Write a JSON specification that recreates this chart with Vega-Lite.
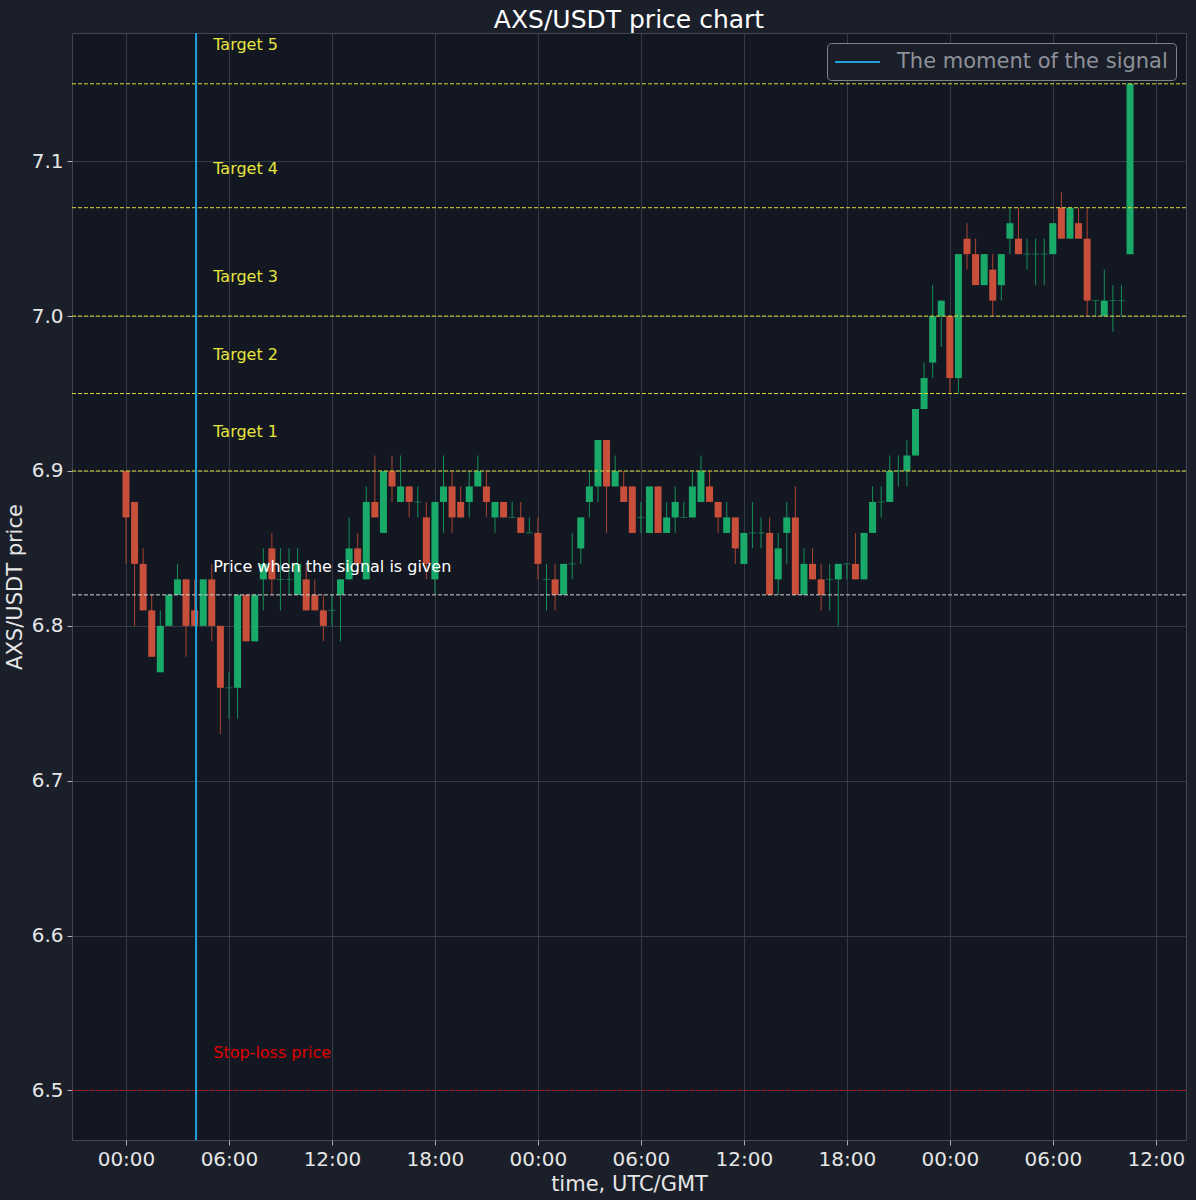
{
"$schema": "https://vega.github.io/schema/vega-lite/v6.json",
"width": 1114, "height": 1107,
"autosize": {"type": "none"},
"padding": {"left": 72, "top": 33, "right": 10, "bottom": 60},
"background": "#1b1f2a",
"title": {"text": "AXS/USDT price chart", "fontSize": 25, "font": "DejaVu Sans", "fontWeight": "normal", "color": "#ffffff", "anchor": "middle", "offset": 2, "baseline": "bottom", "dy": 28},
"config": {
  "view": {"fill": "#131722", "stroke": "#424653", "strokeWidth": 1},
  "font": "DejaVu Sans",
  "axis": {"gridColor": "#363a47", "gridWidth": 1, "domain": false, "tickColor": "#b0b0b0", "tickSize": 5, "labelColor": "#e6e6e6", "labelFontSize": 20, "labelFont": "DejaVu Sans", "titleColor": "#e6e6e6", "titleFontSize": 21, "titleFont": "DejaVu Sans", "titleFontWeight": "normal", "labelPadding": 4}
},
"datasets": {
"candles": [
{"t":"2023-01-01T00:00:00Z","o":6.90,"h":6.90,"l":6.84,"c":6.87},
{"t":"2023-01-01T00:30:00Z","o":6.88,"h":6.88,"l":6.80,"c":6.84},
{"t":"2023-01-01T01:00:00Z","o":6.84,"h":6.85,"l":6.81,"c":6.81},
{"t":"2023-01-01T01:30:00Z","o":6.81,"h":6.82,"l":6.78,"c":6.78},
{"t":"2023-01-01T02:00:00Z","o":6.77,"h":6.81,"l":6.77,"c":6.80},
{"t":"2023-01-01T02:30:00Z","o":6.80,"h":6.82,"l":6.80,"c":6.82},
{"t":"2023-01-01T03:00:00Z","o":6.82,"h":6.84,"l":6.82,"c":6.83},
{"t":"2023-01-01T03:30:00Z","o":6.83,"h":6.83,"l":6.78,"c":6.80},
{"t":"2023-01-01T04:00:00Z","o":6.81,"h":6.83,"l":6.80,"c":6.80},
{"t":"2023-01-01T04:30:00Z","o":6.80,"h":6.83,"l":6.80,"c":6.83},
{"t":"2023-01-01T05:00:00Z","o":6.83,"h":6.84,"l":6.79,"c":6.80},
{"t":"2023-01-01T05:30:00Z","o":6.80,"h":6.80,"l":6.73,"c":6.76},
{"t":"2023-01-01T06:00:00Z","o":6.76,"h":6.77,"l":6.74,"c":6.76},
{"t":"2023-01-01T06:30:00Z","o":6.76,"h":6.82,"l":6.74,"c":6.82},
{"t":"2023-01-01T07:00:00Z","o":6.82,"h":6.82,"l":6.79,"c":6.79},
{"t":"2023-01-01T07:30:00Z","o":6.79,"h":6.82,"l":6.79,"c":6.82},
{"t":"2023-01-01T08:00:00Z","o":6.83,"h":6.85,"l":6.81,"c":6.84},
{"t":"2023-01-01T08:30:00Z","o":6.85,"h":6.86,"l":6.82,"c":6.83},
{"t":"2023-01-01T09:00:00Z","o":6.83,"h":6.85,"l":6.81,"c":6.83},
{"t":"2023-01-01T09:30:00Z","o":6.83,"h":6.85,"l":6.82,"c":6.83},
{"t":"2023-01-01T10:00:00Z","o":6.82,"h":6.85,"l":6.82,"c":6.84},
{"t":"2023-01-01T10:30:00Z","o":6.83,"h":6.84,"l":6.81,"c":6.81},
{"t":"2023-01-01T11:00:00Z","o":6.82,"h":6.83,"l":6.81,"c":6.81},
{"t":"2023-01-01T11:30:00Z","o":6.81,"h":6.82,"l":6.79,"c":6.80},
{"t":"2023-01-01T12:00:00Z","o":6.81,"h":6.82,"l":6.80,"c":6.81},
{"t":"2023-01-01T12:30:00Z","o":6.82,"h":6.83,"l":6.79,"c":6.83},
{"t":"2023-01-01T13:00:00Z","o":6.83,"h":6.87,"l":6.83,"c":6.85},
{"t":"2023-01-01T13:30:00Z","o":6.85,"h":6.86,"l":6.84,"c":6.84},
{"t":"2023-01-01T14:00:00Z","o":6.83,"h":6.89,"l":6.83,"c":6.88},
{"t":"2023-01-01T14:30:00Z","o":6.88,"h":6.91,"l":6.87,"c":6.87},
{"t":"2023-01-01T15:00:00Z","o":6.86,"h":6.90,"l":6.86,"c":6.90},
{"t":"2023-01-01T15:30:00Z","o":6.90,"h":6.91,"l":6.88,"c":6.89},
{"t":"2023-01-01T16:00:00Z","o":6.88,"h":6.91,"l":6.88,"c":6.89},
{"t":"2023-01-01T16:30:00Z","o":6.89,"h":6.89,"l":6.87,"c":6.88},
{"t":"2023-01-01T17:00:00Z","o":6.88,"h":6.89,"l":6.87,"c":6.88},
{"t":"2023-01-01T17:30:00Z","o":6.87,"h":6.88,"l":6.83,"c":6.84},
{"t":"2023-01-01T18:00:00Z","o":6.83,"h":6.88,"l":6.82,"c":6.88},
{"t":"2023-01-01T18:30:00Z","o":6.88,"h":6.91,"l":6.86,"c":6.89},
{"t":"2023-01-01T19:00:00Z","o":6.89,"h":6.90,"l":6.86,"c":6.87},
{"t":"2023-01-01T19:30:00Z","o":6.88,"h":6.89,"l":6.87,"c":6.87},
{"t":"2023-01-01T20:00:00Z","o":6.88,"h":6.90,"l":6.87,"c":6.89},
{"t":"2023-01-01T20:30:00Z","o":6.89,"h":6.91,"l":6.89,"c":6.90},
{"t":"2023-01-01T21:00:00Z","o":6.89,"h":6.90,"l":6.87,"c":6.88},
{"t":"2023-01-01T21:30:00Z","o":6.87,"h":6.88,"l":6.86,"c":6.88},
{"t":"2023-01-01T22:00:00Z","o":6.88,"h":6.88,"l":6.87,"c":6.87},
{"t":"2023-01-01T22:30:00Z","o":6.87,"h":6.88,"l":6.87,"c":6.87},
{"t":"2023-01-01T23:00:00Z","o":6.87,"h":6.88,"l":6.86,"c":6.86},
{"t":"2023-01-01T23:30:00Z","o":6.86,"h":6.87,"l":6.86,"c":6.86},
{"t":"2023-01-02T00:00:00Z","o":6.86,"h":6.87,"l":6.83,"c":6.84},
{"t":"2023-01-02T00:30:00Z","o":6.83,"h":6.84,"l":6.81,"c":6.83},
{"t":"2023-01-02T01:00:00Z","o":6.83,"h":6.84,"l":6.81,"c":6.82},
{"t":"2023-01-02T01:30:00Z","o":6.82,"h":6.84,"l":6.82,"c":6.84},
{"t":"2023-01-02T02:00:00Z","o":6.84,"h":6.86,"l":6.83,"c":6.84},
{"t":"2023-01-02T02:30:00Z","o":6.85,"h":6.87,"l":6.84,"c":6.87},
{"t":"2023-01-02T03:00:00Z","o":6.88,"h":6.90,"l":6.87,"c":6.89},
{"t":"2023-01-02T03:30:00Z","o":6.89,"h":6.92,"l":6.88,"c":6.92},
{"t":"2023-01-02T04:00:00Z","o":6.92,"h":6.92,"l":6.86,"c":6.89},
{"t":"2023-01-02T04:30:00Z","o":6.89,"h":6.91,"l":6.89,"c":6.90},
{"t":"2023-01-02T05:00:00Z","o":6.89,"h":6.90,"l":6.88,"c":6.88},
{"t":"2023-01-02T05:30:00Z","o":6.89,"h":6.89,"l":6.86,"c":6.86},
{"t":"2023-01-02T06:00:00Z","o":6.87,"h":6.88,"l":6.86,"c":6.87},
{"t":"2023-01-02T06:30:00Z","o":6.86,"h":6.89,"l":6.86,"c":6.89},
{"t":"2023-01-02T07:00:00Z","o":6.89,"h":6.89,"l":6.86,"c":6.86},
{"t":"2023-01-02T07:30:00Z","o":6.86,"h":6.88,"l":6.86,"c":6.87},
{"t":"2023-01-02T08:00:00Z","o":6.87,"h":6.89,"l":6.86,"c":6.88},
{"t":"2023-01-02T08:30:00Z","o":6.87,"h":6.88,"l":6.87,"c":6.87},
{"t":"2023-01-02T09:00:00Z","o":6.87,"h":6.90,"l":6.87,"c":6.89},
{"t":"2023-01-02T09:30:00Z","o":6.88,"h":6.91,"l":6.88,"c":6.90},
{"t":"2023-01-02T10:00:00Z","o":6.89,"h":6.90,"l":6.88,"c":6.88},
{"t":"2023-01-02T10:30:00Z","o":6.88,"h":6.88,"l":6.86,"c":6.87},
{"t":"2023-01-02T11:00:00Z","o":6.86,"h":6.88,"l":6.86,"c":6.87},
{"t":"2023-01-02T11:30:00Z","o":6.87,"h":6.87,"l":6.84,"c":6.85},
{"t":"2023-01-02T12:00:00Z","o":6.84,"h":6.86,"l":6.84,"c":6.86},
{"t":"2023-01-02T12:30:00Z","o":6.86,"h":6.88,"l":6.85,"c":6.86},
{"t":"2023-01-02T13:00:00Z","o":6.86,"h":6.87,"l":6.85,"c":6.86},
{"t":"2023-01-02T13:30:00Z","o":6.86,"h":6.87,"l":6.82,"c":6.82},
{"t":"2023-01-02T14:00:00Z","o":6.83,"h":6.86,"l":6.82,"c":6.85},
{"t":"2023-01-02T14:30:00Z","o":6.86,"h":6.88,"l":6.84,"c":6.87},
{"t":"2023-01-02T15:00:00Z","o":6.87,"h":6.89,"l":6.82,"c":6.82},
{"t":"2023-01-02T15:30:00Z","o":6.82,"h":6.85,"l":6.82,"c":6.84},
{"t":"2023-01-02T16:00:00Z","o":6.84,"h":6.85,"l":6.83,"c":6.83},
{"t":"2023-01-02T16:30:00Z","o":6.83,"h":6.84,"l":6.81,"c":6.82},
{"t":"2023-01-02T17:00:00Z","o":6.83,"h":6.84,"l":6.81,"c":6.83},
{"t":"2023-01-02T17:30:00Z","o":6.83,"h":6.84,"l":6.80,"c":6.84},
{"t":"2023-01-02T18:00:00Z","o":6.84,"h":6.84,"l":6.83,"c":6.84},
{"t":"2023-01-02T18:30:00Z","o":6.84,"h":6.86,"l":6.83,"c":6.83},
{"t":"2023-01-02T19:00:00Z","o":6.83,"h":6.86,"l":6.83,"c":6.86},
{"t":"2023-01-02T19:30:00Z","o":6.86,"h":6.89,"l":6.86,"c":6.88},
{"t":"2023-01-02T20:00:00Z","o":6.88,"h":6.89,"l":6.87,"c":6.88},
{"t":"2023-01-02T20:30:00Z","o":6.88,"h":6.91,"l":6.88,"c":6.90},
{"t":"2023-01-02T21:00:00Z","o":6.90,"h":6.91,"l":6.89,"c":6.90},
{"t":"2023-01-02T21:30:00Z","o":6.90,"h":6.92,"l":6.89,"c":6.91},
{"t":"2023-01-02T22:00:00Z","o":6.91,"h":6.94,"l":6.91,"c":6.94},
{"t":"2023-01-02T22:30:00Z","o":6.94,"h":6.97,"l":6.94,"c":6.96},
{"t":"2023-01-02T23:00:00Z","o":6.97,"h":7.02,"l":6.96,"c":7.00},
{"t":"2023-01-02T23:30:00Z","o":7.00,"h":7.01,"l":6.98,"c":7.01},
{"t":"2023-01-03T00:00:00Z","o":7.00,"h":7.00,"l":6.95,"c":6.96},
{"t":"2023-01-03T00:30:00Z","o":6.96,"h":7.04,"l":6.95,"c":7.04},
{"t":"2023-01-03T01:00:00Z","o":7.05,"h":7.06,"l":7.03,"c":7.04},
{"t":"2023-01-03T01:30:00Z","o":7.04,"h":7.05,"l":7.02,"c":7.02},
{"t":"2023-01-03T02:00:00Z","o":7.02,"h":7.04,"l":7.02,"c":7.04},
{"t":"2023-01-03T02:30:00Z","o":7.03,"h":7.04,"l":7.00,"c":7.01},
{"t":"2023-01-03T03:00:00Z","o":7.02,"h":7.04,"l":7.01,"c":7.04},
{"t":"2023-01-03T03:30:00Z","o":7.05,"h":7.07,"l":7.04,"c":7.06},
{"t":"2023-01-03T04:00:00Z","o":7.05,"h":7.07,"l":7.04,"c":7.04},
{"t":"2023-01-03T04:30:00Z","o":7.04,"h":7.05,"l":7.03,"c":7.04},
{"t":"2023-01-03T05:00:00Z","o":7.04,"h":7.05,"l":7.02,"c":7.04},
{"t":"2023-01-03T05:30:00Z","o":7.04,"h":7.05,"l":7.02,"c":7.04},
{"t":"2023-01-03T06:00:00Z","o":7.04,"h":7.06,"l":7.04,"c":7.06},
{"t":"2023-01-03T06:30:00Z","o":7.07,"h":7.08,"l":7.05,"c":7.05},
{"t":"2023-01-03T07:00:00Z","o":7.05,"h":7.07,"l":7.05,"c":7.07},
{"t":"2023-01-03T07:30:00Z","o":7.06,"h":7.07,"l":7.05,"c":7.05},
{"t":"2023-01-03T08:00:00Z","o":7.05,"h":7.07,"l":7.00,"c":7.01},
{"t":"2023-01-03T08:30:00Z","o":7.01,"h":7.01,"l":7.00,"c":7.01},
{"t":"2023-01-03T09:00:00Z","o":7.00,"h":7.03,"l":7.00,"c":7.01},
{"t":"2023-01-03T09:30:00Z","o":7.01,"h":7.02,"l":6.99,"c":7.01},
{"t":"2023-01-03T10:00:00Z","o":7.01,"h":7.02,"l":7.00,"c":7.01},
{"t":"2023-01-03T10:30:00Z","o":7.04,"h":7.15,"l":7.04,"c":7.15}
],
"levels": [
{"price": 6.90, "label": "Target 1", "kind": "target"},
{"price": 6.95, "label": "Target 2", "kind": "target"},
{"price": 7.00, "label": "Target 3", "kind": "target"},
{"price": 7.07, "label": "Target 4", "kind": "target"},
{"price": 7.15, "label": "Target 5", "kind": "target"},
{"price": 6.82, "label": "Price when the signal is given", "kind": "entry"},
{"price": 6.50, "label": "Stop-loss price", "kind": "stop"}
],
"signal": [
{"t": "2023-01-01T04:05:00Z", "name": "The moment of the signal"}
]
},
"layer": [
{
  "data": {"name": "candles"},
  "mark": {"type": "rule", "strokeWidth": 1},
  "encoding": {
    "x": {"field": "t", "type": "temporal", "title": "time, UTC/GMT",
      "scale": {"type": "utc", "padding": 0, "domain": [{"year": 2022, "month": 12, "date": 31, "hours": 20, "minutes": 51, "seconds": 18, "utc": true}, {"year": 2023, "month": 1, "date": 3, "hours": 13, "minutes": 45, "seconds": 36, "utc": true}]},
      "axis": {"format": "%H:%M", "titlePadding": 4, "values": [
        {"year": 2023, "month": 1, "date": 1, "hours": 0, "utc": true},
        {"year": 2023, "month": 1, "date": 1, "hours": 6, "utc": true},
        {"year": 2023, "month": 1, "date": 1, "hours": 12, "utc": true},
        {"year": 2023, "month": 1, "date": 1, "hours": 18, "utc": true},
        {"year": 2023, "month": 1, "date": 2, "hours": 0, "utc": true},
        {"year": 2023, "month": 1, "date": 2, "hours": 6, "utc": true},
        {"year": 2023, "month": 1, "date": 2, "hours": 12, "utc": true},
        {"year": 2023, "month": 1, "date": 2, "hours": 18, "utc": true},
        {"year": 2023, "month": 1, "date": 3, "hours": 0, "utc": true},
        {"year": 2023, "month": 1, "date": 3, "hours": 6, "utc": true},
        {"year": 2023, "month": 1, "date": 3, "hours": 12, "utc": true}
      ]}},
    "y": {"field": "l", "type": "quantitative", "title": "AXS/USDT price",
      "scale": {"domain": [6.468, 7.1828], "zero": false, "nice": false},
      "axis": {"values": [6.5, 6.6, 6.7, 6.8, 6.9, 7.0, 7.1], "format": ".1f", "titlePadding": 6}},
    "y2": {"field": "h"},
    "color": {"condition": {"test": "datum.c >= datum.o", "value": "#158f5a"}, "value": "#a94430"}
  }
},
{
  "data": {"name": "candles"},
  "mark": {"type": "bar", "size": 7},
  "encoding": {
    "x": {"field": "t", "type": "temporal", "title": "time, UTC/GMT"},
    "y": {"field": "o", "type": "quantitative", "title": "AXS/USDT price"},
    "y2": {"field": "c"},
    "color": {"condition": {"test": "datum.c >= datum.o", "value": "#19aa69"}, "value": "#c8503a"}
  }
},
{
  "data": {"name": "candles"},
  "transform": [{"filter": "datum.o == datum.c"}],
  "mark": {"type": "tick", "orient": "horizontal", "size": 7, "thickness": 1},
  "encoding": {
    "x": {"field": "t", "type": "temporal", "title": "time, UTC/GMT"},
    "y": {"field": "c", "type": "quantitative", "title": "AXS/USDT price"},
    "color": {"value": "#158f5a"}
  }
},
{
  "data": {"name": "levels"},
  "mark": {"type": "rule", "strokeWidth": 1, "strokeDash": [4, 2]},
  "encoding": {
    "y": {"field": "price", "type": "quantitative", "title": "AXS/USDT price"},
    "color": {"condition": [{"test": "datum.kind == 'stop'", "value": "#b0161a"}, {"test": "datum.kind == 'entry'", "value": "#d4d4d4"}], "value": "#dada3a"}
  }
},
{
  "data": {"name": "levels"},
  "transform": [{"filter": "datum.kind == 'target'"}],
  "mark": {"type": "text", "align": "left", "baseline": "middle", "dy": -39, "fontSize": 16, "font": "DejaVu Sans", "color": "#e6e63c"},
  "encoding": {
    "x": {"datum": {"year": 2023, "month": 1, "date": 1, "hours": 5, "minutes": 5, "utc": true}, "type": "temporal"},
    "y": {"field": "price", "type": "quantitative", "title": "AXS/USDT price"},
    "text": {"field": "label"}
  }
},
{
  "data": {"name": "levels"},
  "transform": [{"filter": "datum.kind == 'entry'"}],
  "mark": {"type": "text", "align": "left", "baseline": "middle", "dy": -28, "fontSize": 16, "font": "DejaVu Sans", "color": "#ffffff"},
  "encoding": {
    "x": {"datum": {"year": 2023, "month": 1, "date": 1, "hours": 5, "minutes": 5, "utc": true}, "type": "temporal"},
    "y": {"field": "price", "type": "quantitative", "title": "AXS/USDT price"},
    "text": {"field": "label"}
  }
},
{
  "data": {"name": "levels"},
  "transform": [{"filter": "datum.kind == 'stop'"}],
  "mark": {"type": "text", "align": "left", "baseline": "middle", "dy": -37, "fontSize": 16, "font": "DejaVu Sans", "color": "#e00000"},
  "encoding": {
    "x": {"datum": {"year": 2023, "month": 1, "date": 1, "hours": 5, "minutes": 5, "utc": true}, "type": "temporal"},
    "y": {"field": "price", "type": "quantitative", "title": "AXS/USDT price"},
    "text": {"field": "label"}
  }
},
{
  "data": {"name": "signal"},
  "mark": {"type": "rule", "strokeWidth": 2},
  "encoding": {
    "x": {"field": "t", "type": "temporal", "title": "time, UTC/GMT"},
    "stroke": {"field": "name", "type": "nominal", "scale": {"range": ["#1ea3dc"]},
      "legend": {"title": null, "orient": "top-right", "offset": 10, "padding": 8, "fillColor": "#1a1e29", "strokeColor": "#80838b", "cornerRadius": 4, "labelFontSize": 21, "labelLimit": 500, "labelColor": "#8e9199", "labelFont": "DejaVu Sans", "symbolType": "M-2.25,0H2.25", "symbolSize": 400, "symbolStrokeWidth": 2, "symbolOffset": 11.5, "labelOffset": 28.5}}
  }
}
]
}
